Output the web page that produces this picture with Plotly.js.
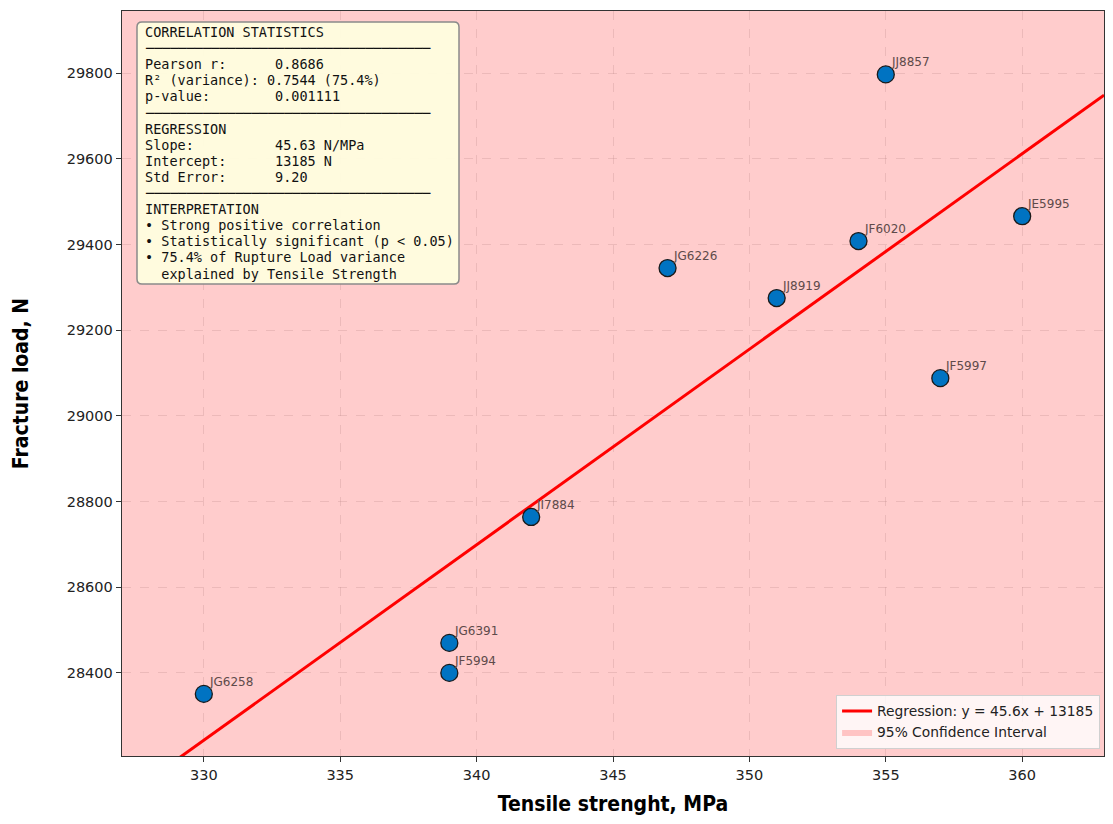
<!DOCTYPE html>
<html>
<head>
<meta charset="utf-8">
<script src="https://cdn.plot.ly/plotly-3.0.1.min.js"></script>
<style>
  html, body { margin: 0; padding: 0; background: #fff; }
  #chart { width: 1113px; height: 824px; }
</style>
</head>
<body>
<div id="chart"></div>
<script>
// specimen data
var specimens = ['JG6258', 'JF5994', 'JG6391', 'JI7884', 'JG6226', 'JJ8919', 'JF6020', 'JJ8857', 'JF5997', 'JE5995']
var tensile = [330, 339, 339, 342, 347, 351, 354, 355, 357, 360]
var fracture = [28351, 28400, 28470, 28764, 29345, 29275, 29408, 29797, 29088, 29466]

// regression fit
var slope = 45.63
var intercept = 13185
var lineX = [327, 363]

// 95% band (extends past the visible axes)
var ciX = [327, 363]
var ciLower = [26300, 27600]
var ciUpper = [30000, 31900]

var xRange = [327, 363]
var xTicks = [330, 335, 340, 345, 350, 355, 360]
var yRange = [28206, 29945]
var yTicks = [28400, 28600, 28800, 29000, 29200, 29400, 29600, 29800]

var rule = '─'.repeat(35)
var statsLines = [
    'CORRELATION STATISTICS',
    rule,
    'Pearson r:      0.8686',
    'R² (variance): 0.7544 (75.4%)',
    'p-value:        0.001111',
    rule,
    'REGRESSION',
    'Slope:          45.63 N/MPa',
    'Intercept:      13185 N',
    'Std Error:      9.20',
    rule,
    'INTERPRETATION',
    '• Strong positive correlation',
    '• Statistically significant (p < 0.05)',
    '• 75.4% of Rupture Load variance',
    '  explained by Tensile Strength'
]

var trace_ci = {
    x: ciX.concat(ciX.slice().reverse()),
    y: ciUpper.concat(ciLower.slice().reverse()),
    type: 'scatter',
    mode: 'lines',
    fill: 'toself',
    fillcolor: 'rgba(255,0,0,0.2)',
    line: {width: 0, color: 'rgba(255,0,0,0.2)'},
    name: '95% Confidence Interval',
    hoverinfo: 'skip'
}

var trace_fit = {
    x: lineX,
    y: lineX.map(function (v) { return slope * v + intercept }),
    type: 'scatter',
    mode: 'lines',
    line: {color: '#ff0000', width: 3},
    name: 'Regression: y = 45.6x + 13185'
}

var trace_pts = {
    x: tensile,
    y: fracture,
    type: 'scatter',
    mode: 'markers',
    marker: {size: 17, color: '#0073C2', line: {color: '#1a1a1a', width: 1.3}},
    showlegend: false
}

var notes = specimens.map(function (s, i) {
    return {
        x: tensile[i], y: fracture[i], xref: 'x', yref: 'y',
        text: s, showarrow: false,
        xanchor: 'left', yanchor: 'bottom',
        xshift: 3, yshift: 3,
        font: {family: 'DejaVu Sans', size: 12, color: '#5e4a4a'}
    }
})

// stats box: one annotation per line so the line spacing matches
var plotH = 745, plotW = 982
statsLines.forEach(function (line, i) {
    notes.push({
        xref: 'paper', yref: 'paper',
        x: 21 / plotW, y: 1 - (21 + i * 16.1) / plotH,
        xanchor: 'left', yanchor: 'middle',
        text: line.replace(/ /g, '&nbsp;'),
        showarrow: false, align: 'left',
        font: {family: 'DejaVu Sans Mono', size: 13.5, color: '#111'}
    })
})

// rounded box outline in paper units
function roundBox(l, t, r, b, rad) {
    var px = function (v) { return (v / plotW).toFixed(5) }
    var py = function (v) { return (1 - v / plotH).toFixed(5) }
    return 'M ' + px(l + rad) + ' ' + py(t) +
        ' L ' + px(r - rad) + ' ' + py(t) +
        ' Q ' + px(r) + ' ' + py(t) + ' ' + px(r) + ' ' + py(t + rad) +
        ' L ' + px(r) + ' ' + py(b - rad) +
        ' Q ' + px(r) + ' ' + py(b) + ' ' + px(r - rad) + ' ' + py(b) +
        ' L ' + px(l + rad) + ' ' + py(b) +
        ' Q ' + px(l) + ' ' + py(b) + ' ' + px(l) + ' ' + py(b - rad) +
        ' L ' + px(l) + ' ' + py(t + rad) +
        ' Q ' + px(l) + ' ' + py(t) + ' ' + px(l + rad) + ' ' + py(t) + ' Z'
}

var axisTitleFont = {family: 'Liberation Sans Narrow, DejaVu Sans Condensed, sans-serif', size: 21, color: '#000', weight: 'bold'}

var layout = {
    width: 1113,
    height: 824,
    margin: {l: 122, r: 9, t: 11, b: 68},
    paper_bgcolor: '#ffffff',
    plot_bgcolor: '#ffffff',
    font: {family: 'DejaVu Sans', size: 14, color: '#222'},
    xaxis: {
        range: xRange,
        tickvals: xTicks,
        ticks: 'outside', ticklen: 5, tickcolor: '#333',
        showgrid: true, gridcolor: 'rgba(150,150,150,0.22)', griddash: 'dash', gridwidth: 1,
        zeroline: false,
        showline: true, linecolor: '#333', linewidth: 1.3, mirror: true,
        tickfont: {size: 14.5},
        title: {text: 'Tensile strenght, MPa', font: axisTitleFont, standoff: 14}
    },
    yaxis: {
        range: yRange,
        tickvals: yTicks,
        tickformat: 'd',
        ticks: 'outside', ticklen: 5, tickcolor: '#333',
        showgrid: true, gridcolor: 'rgba(150,150,150,0.22)', griddash: 'dash', gridwidth: 1,
        zeroline: false,
        showline: true, linecolor: '#333', linewidth: 1.3, mirror: true,
        tickfont: {size: 14.5},
        title: {text: 'Fracture load, N', font: axisTitleFont, standoff: 32}
    },
    legend: {
        x: 0.996, y: 0.01, xanchor: 'right', yanchor: 'bottom',
        bgcolor: 'rgba(255,255,255,0.8)', bordercolor: '#d0d0d0', borderwidth: 1,
        font: {family: 'DejaVu Sans', size: 13.8, color: '#222'},
        traceorder: 'reversed', itemwidth: 30
    },
    shapes: [{
        type: 'path', xref: 'paper', yref: 'paper', layer: 'above',
        path: roundBox(15, 11, 337, 273, 5),
        fillcolor: 'rgba(255,255,224,0.92)',
        line: {color: '#8a8a8a', width: 1.5}
    }],
    annotations: notes,
    showlegend: true
}

Plotly.newPlot('chart', [trace_ci, trace_fit, trace_pts], layout, {displayModeBar: false, staticPlot: true})
</script>
</body>
</html>
